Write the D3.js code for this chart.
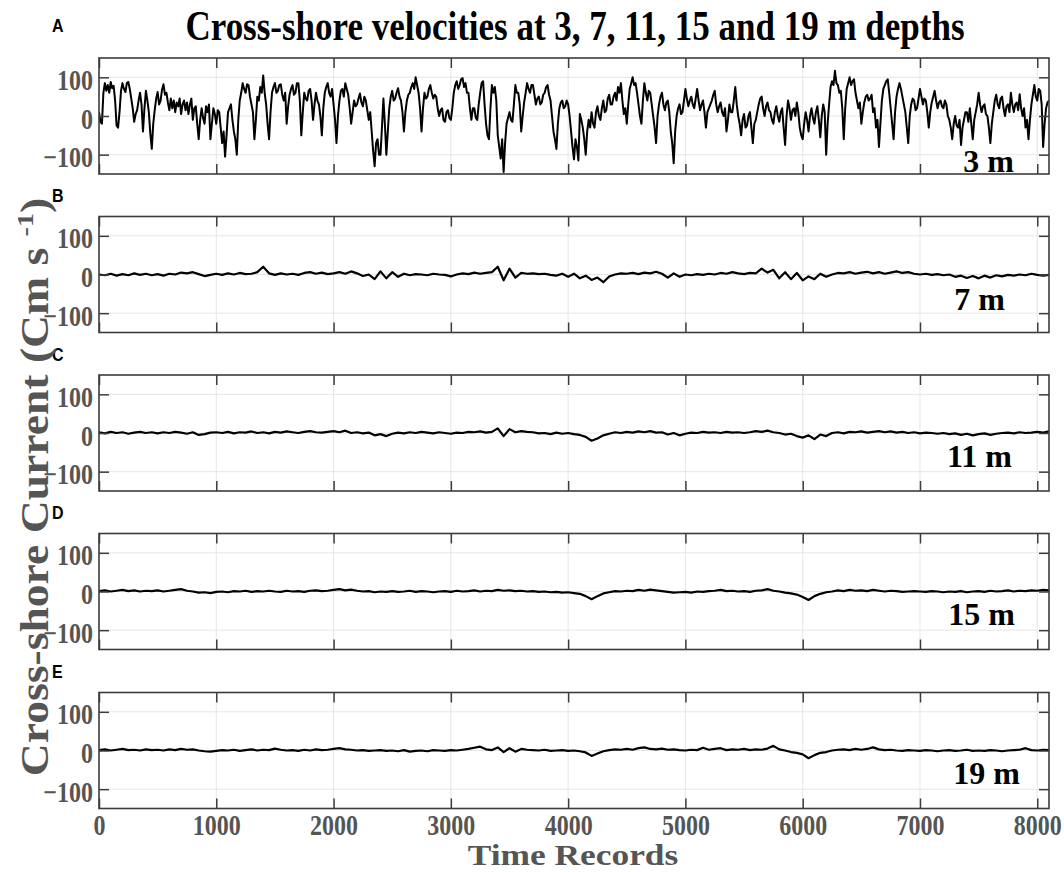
<!DOCTYPE html>
<html><head><meta charset="utf-8">
<script src="https://cdn.jsdelivr.net/npm/d3@7"></script>
<style>body{margin:0;background:#fff}</style>
</head><body>
<svg id="chart" width="1064" height="872"></svg>
<script>
// ---------- data ----------
const xTicks = [0, 1000, 2000, 3000, 4000, 5000, 6000, 7000, 8000];
const yTicks = [-100, 0, 100];
const xMax = 8100;
const depthLabels = ["3 m", "7 m", "11 m", "15 m", "19 m"];
const panelLetters = ["A", "B", "C", "D", "E"];
const titleText = "Cross-shore velocities at 3, 7, 11, 15 and 19 m depths";
const xLabel = "Time Records";

// record step between samples
const step3m = 12.5;
const stepDeep = 50;

const vel3m = [
  10, -15, -20, 60, 85, 65, 80, 60, 88, 72, 78, 40, -25, -30, 10, 65,
  85, 70, 62, 85, 88, 70, 45, 20, -15, 5, 15, 40, 60, 30, -40, 20,
  65, 40, 10, -45, -85, -20, 15, 45, 62, 30, 40, 68, 82, 55, 60, 35,
  15, 45, 20, 40, 10, 35, 25, 45, 5, 30, 40, 15, 35, 5, 30, 45,
  -10, 20, 25, -20, -60, -10, 20, -5, -20, 25, 10, 30, -60, -20, 20, 5,
  -20, 15, 10, -30, -70, -40, -105, -50, 10, 20, 30, -10, -40, -60, -100, -10,
  40, 60, 85, 70, 60, 82, 80, 50, 30, 10, -60, -10, 50, 40, 75, 60,
  105, 60, 30, -20, -60, 10, 60, 75, 85, 60, 65, 80, 82, 55, 40, 60,
  -20, 25, 55, 70, 80, 55, 60, 85, 85, 40, -50, 10, 60, 45, 40, 65,
  70, 40, -10, 30, 60, 40, 30, 0, -50, 20, 60, 75, 85, 60, 50, 70,
  30, -10, -70, 0, 40, 65, 70, 50, 85, 70, 55, 20, -20, 10, 40, 25,
  30, 45, 58, 35, 25, 50, 40, 15, -10, 10, -40, -90, -130, -70, -60, -100,
  -100, -30, 45, -20, -100, -40, 20, 50, 65, 40, 45, 60, 72, 50, 40, 10,
  -40, 10, 40, 55, 60, 75, 85, 70, 100, 80, 60, 20, -40, 20, 60, 45,
  50, 70, 80, 60, 45, 55, 50, 20, 0, 15, 20, -10, -15, 10, 15, -5,
  -10, 20, 60, 80, 90, 70, 80, 95, 98, 75, 85, 60, 60, 20, -10, 20,
  20, -5, -10, 30, 60, 85, 90, 30, -20, -50, -60, 20, 80, 60, 75, 40,
  -50, -80, -110, -60, -145, -70, -20, -5, 10, -10, -15, 30, 80, 60, 60, 30,
  -40, 0, 35, 60, 85, 70, 60, 80, 80, 55, 30, 45, 50, 30, 35, 55,
  60, 75, 80, 55, 40, 0, -40, -60, -85, -20, 20, 35, 40, 20, 25, 40,
  30, 0, -40, -80, -112, -60, -80, -115, 5, -10, -30, -60, -100, -40, -10, -30,
  10, -20, -30, 10, 25, 0, -10, 20, 40, 10, 15, 45, 55, 30, 30, 50,
  60, 40, 75, 60, 85, 40, 5, 20, -20, 30, 70, 85, 100, 80, 85, 60,
  30, 0, -20, 40, 85, 60, 40, 65, 60, 30, 0, -30, -70, 0, 30, 50,
  60, 30, 15, 35, 40, 10, -40, -70, -122, -40, 0, 20, 30, 5, 10, 40,
  70, 45, 25, 40, 50, 30, 20, 45, 70, 40, 15, 30, 40, 10, -30, 10,
  20, 30, 40, 55, 65, 30, 10, 25, 35, 10, 0, 20, -40, -10, 30, 10,
  10, 40, 75, 30, 0, -20, -50, -10, 5, -30, -25, 0, 10, -30, -70, -20,
  -10, 10, 30, 45, 50, 20, 0, 25, 35, 15, 10, -10, -20, 10, 25, 0,
  -15, 10, 20, -30, -75, 0, 40, 20, -10, 15, 20, 0, 35, 10, -30, -50,
  -60, -20, 10, -10, -40, 0, 20, -5, -20, 10, 25, -10, -55, 0, 30, 10,
  -100, -20, 30, 75, 90, 80, 117, 85, 80, 60, 65, 20, -60, 20, 70, 85,
  100, 80, 90, 95, 60, 40, 20, 35, -20, 10, 35, 50, 55, 40, 45, 55,
  10, 20, -30, -10, -80, -20, 40, 70, 80, 90, 95, 60, 20, -20, -60, 10,
  50, 70, 85, 70, 50, 30, 10, -30, -70, 0, 30, 45, 40, 15, 20, 45,
  70, 50, 30, 45, 40, 10, -30, 10, 35, 50, 65, 40, 20, 35, 40, 25,
  20, 40, 30, 0, -10, -30, -60, -20, 0, -25, -30, -10, -75, -30, -10, 10,
  10, -15, 20, -20, -60, -10, 10, 30, 60, 30, 10, 25, 30, 5, 0, -30,
  -70, -20, 10, 40, 55, 30, 20, 45, 50, 20, 0, 25, 30, 10, 60, 30,
  10, 30, 35, 15, 56, 20, 0, 20, -30, -10, -60, -10, 30, 55, 80, 50,
  40, 70, 65, 30, -80, -20, 20, 35, 40
];

const vel7m = [
  0, -2, 2, -3, 1, -2, 3, -1, 2, -2,
  1, -3, 2, 0, 5, 3, 6, 1, -4, -1,
  2, -1, 3, 0, 4, 1, 2, 6, 20, 3,
  -1, 3, 0, 2, -1, 4, 6, 2, 5, 1,
  3, 6, 2, 8, 3, -4, 0, -12, 8, -10,
  6, -6, 2, -2, 1, 0, -2, 2, 0, -1,
  -5, 0, 3, 1, 5, 2, 4, 6, 20, -15,
  15, -8, 4, 2, 3, 1, 2, -1, -3, 2,
  -6, 2, -10, -3, -14, -8, -20, -5, 0, 3,
  2, 4, 1, 5, 3, 7, 2, -8, 3, -6,
  0, -2, 1, -1, 2, 0, 4, 2, 6, 3,
  1, 4, 3, 15, 5, 12, -10, 6, -12, 4,
  -15, -5, -12, 2, -6, 0, 4, 3, 6, 2,
  5, 7, 3, 6, 2, 5, 8, 4, 6, 2,
  0, 2, -1, 1, -2, 0, -6, -3, -9, -4,
  -10, -3, -8, -2, -5, -1, -3, 0, -2, 2,
  -1, -3, -1
];

const vel11m = [
  2, -1, 3, 0, 2, -2, 1, 3, 0, 2,
  -1, 2, 0, 3, 1, -2, 2, -5, -3, 1,
  2, 0, 3, -1, 2, 1, 4, 0, 2, -1,
  3, 1, 4, 2, 0, 3, 5, 2, 1, 3,
  5, 2, 6, 0, 2, -1, 1, -6, -3, -8,
  -2, 1, -1, 2, 0, 3, 1, -1, 2, 0,
  -2, 1, 0, 3, 2, 4, 1, 3, 12, -8,
  10, 2, 5, 3, 2, -1, 0, -3, 1, -2,
  0, -3, -5, -10, -20, -14, -6, -2, 2, 0,
  3, 1, 4, 2, 5, 1, 2, -4, 0, -6,
  -2, 1, 0, 3, 1, 2, 0, 3, 1, 2,
  0, 2, 5, 3, 6, 2, 0, -4, -2, -8,
  -12, -6, -16, -4, -8, 0, 2, -1, 3, 2,
  4, 1, 3, 5, 2, 4, 1, 3, 0, 2,
  -1, 1, 0, -2, 0, -3, -1, -5, -2, -6,
  -3, -1, -5, -2, 0, 1, -1, 2, 0, 1,
  3, 1, 4
];

const vel15m = [
  1, 3, 0, 2, 4, 1, 3, 0, 2, 1,
  3, 0, 2, 4, 6, 2, 0, -3, -2, -4,
  -1, 0, -2, 1, 0, 2, -1, 1, 0, 2,
  0, -1, 2, 0, 1, -1, 2, 3, 1, 2,
  4, 6, 3, 5, 2, 0, 1, -2, 0, -1,
  1, -1, 0, 2, -1, 1, 0, -2, 0, 1,
  -1, 2, 0, 1, 3, 0, 2, 1, 4, 2,
  3, 1, 2, 0, 1, -1, 0, -2, -1, -3,
  -2, -4, -6, -12, -20, -12, -5, -2, 1, 0,
  2, 1, 4, 2, 5, 3, 1, -1, -3, -2,
  -1, -3, 0, -1, 1, 2, 4, 1, 2, 0,
  1, -1, 2, 3, 6, 2, 0, -3, -5, -8,
  -14, -22, -12, -6, -2, 0, 3, 1, 4, 2,
  3, 1, 4, 2, 0, 2, 1, -1, 0, 1,
  0, -1, 1, 0, -2, 0, -1, 1, -2, 0,
  1, -1, 2, 0, 1, 3, 0, 2, 1, 3,
  2, 4, 3
];

const vel19m = [
  1, 3, 0, 2, 4, 1, 2, 0, 3, 1,
  2, 0, 3, 1, 4, 2, 3, 0, -2, -3,
  -1, 1, 0, 2, -1, 1, 3, 0, 2, 1,
  5, 2, 0, 1, -1, 2, 0, 3, 1, 2,
  4, 6, 3, 2, 0, 1, -1, 0, 1, -1,
  0, -2, 1, -3, -1, 0, -2, 1, 0, -1,
  1, 0, 2, 4, 7, 10, 3, 1, 8, -4,
  6, -3, 4, 2, 1, 0, 2, -1, 0, 1,
  -1, 0, -2, -5, -14, -8, -2, 1, 3, 2,
  4, 2, 6, 8, 4, 3, 5, 2, 3, 1,
  0, 2, 1, 7, 2, 4, 6, 1, 3, 2,
  4, 1, 3, 2, 5, 12, 3, 0, -4, -6,
  -10, -20, -12, -6, -4, 0, 2, 3, 1, 4,
  2, 4, 8, 3, 1, 2, 0, -1, 1, 0,
  -1, 1, 0, -2, 0, 1, -1, 0, 2, -1,
  0, -1, 1, 0, -2, 0, 1, 2, 6, 1,
  0, 2, 1
];

// ---------- layout ----------
const panels = [
  {vals: vel3m,  step: step3m,   top: 58,    lw: 2.0, labX: 1014, labDy: 114, letY: 32},
  {vals: vel7m,  step: stepDeep, top: 216.5, lw: 2.2, labX: 1005, labDy: 93,  letY: 202},
  {vals: vel11m, step: stepDeep, top: 375,   lw: 2.2, labX: 1012, labDy: 92,  letY: 361},
  {vals: vel15m, step: stepDeep, top: 533.5, lw: 2.2, labX: 1015, labDy: 91,  letY: 519},
  {vals: vel19m, step: stepDeep, top: 692.5, lw: 2.2, labX: 1020, labDy: 91,  letY: 678}
];
const L = 99, R = 1049, H = 116;
const serif = "'Liberation Serif','Times New Roman',serif";
const axisCol = "#3c3c3c", labCol = "#555555", gridCol = "#e6e6e6";
const vStretch = 1.2;

const svg = d3.select("#chart");
const x = d3.scaleLinear().domain([0, xMax]).range([L, R]);

svg.append("text").attr("transform", `translate(575,40) scale(1,${vStretch})`)
  .attr("text-anchor", "middle")
  .attr("font-family", serif).attr("font-weight", "bold").attr("font-size", 35)
  .attr("fill", "#000").text(titleText);

panels.forEach((p, i) => {
  const y = d3.scaleLinear().domain([-150, 150]).range([p.top + H, p.top]);
  const g = svg.append("g");
  g.selectAll(".gx").data(xTicks.filter(t => t > 0)).join("line")
    .attr("x1", d => x(d)).attr("x2", d => x(d)).attr("y1", p.top).attr("y2", p.top + H)
    .attr("stroke", gridCol).attr("stroke-width", 1);
  g.selectAll(".gy").data(yTicks).join("line")
    .attr("x1", L).attr("x2", R).attr("y1", d => y(d)).attr("y2", d => y(d))
    .attr("stroke", gridCol).attr("stroke-width", 1);
  const cid = "clip" + i;
  svg.append("clipPath").attr("id", cid).append("rect")
    .attr("x", L).attr("y", p.top).attr("width", R - L).attr("height", H);
  const line = d3.line().x((d, j) => x(j * p.step)).y(d => y(d));
  g.append("path").datum(p.vals).attr("d", line).attr("clip-path", `url(#${cid})`)
    .attr("fill", "none").attr("stroke", "#000").attr("stroke-width", p.lw)
    .attr("stroke-linejoin", "round");
  const yl = g.append("g").attr("transform", `translate(${L},0)`)
    .call(d3.axisLeft(y).tickValues(yTicks).tickSize(-10).tickPadding(6).tickFormat(d3.format("d")));
  const yr = g.append("g").attr("transform", `translate(${R},0)`)
    .call(d3.axisRight(y).tickValues(yTicks).tickSize(-10).tickFormat(""));
  const xt = g.append("g").attr("transform", `translate(0,${p.top})`)
    .call(d3.axisTop(x).tickValues(xTicks).tickSize(-10).tickFormat(""));
  const xb = g.append("g").attr("transform", `translate(0,${p.top + H})`)
    .call(d3.axisBottom(x).tickValues(xTicks).tickSize(-10).tickPadding(5)
      .tickFormat(i === panels.length - 1 ? d3.format("d") : ""));
  [yl, yr, xt, xb].forEach(a => {
    a.select(".domain").remove();
    a.selectAll(".tick line").attr("stroke", axisCol).attr("stroke-width", 1.5);
    a.selectAll("text").attr("font-family", serif).attr("font-weight", "bold")
      .attr("font-size", 24).attr("fill", labCol)
      .attr("transform", `scale(1,${vStretch})`);
  });
  yl.selectAll("text").attr("dy", "0.42em");
  g.append("rect").attr("x", L).attr("y", p.top).attr("width", R - L).attr("height", H)
    .attr("fill", "none").attr("stroke", axisCol).attr("stroke-width", 1.6);
  g.append("text").attr("x", p.labX).attr("y", p.top + p.labDy).attr("text-anchor", "end")
    .attr("font-family", serif).attr("font-weight", "bold").attr("font-size", 32)
    .attr("fill", "#000").text(depthLabels[i]);
  svg.append("text").attr("transform", `translate(52,${p.letY}) scale(1,1.1)`)
    .attr("font-family", "'Liberation Sans',Arial,sans-serif").attr("font-weight", "bold")
    .attr("font-size", 16).attr("fill", "#000").text(panelLetters[i]);
});

svg.append("text").attr("transform", "translate(573,865) scale(1.18,1)").attr("text-anchor", "middle")
  .attr("font-family", serif).attr("font-weight", "bold").attr("font-size", 30)
  .attr("fill", labCol).text(xLabel);

const yt = svg.append("text").attr("transform", "translate(48,487) rotate(-90) scale(1.17,1)")
  .attr("text-anchor", "middle").attr("font-family", serif).attr("font-weight", "bold")
  .attr("font-size", 39).attr("fill", labCol);
yt.append("tspan").text("Cross-shore Current (Cm s ");
yt.append("tspan").attr("font-size", 24).attr("dy", -15).text("-1");
yt.append("tspan").attr("dy", 15).text(")");
</script>
</body></html>
